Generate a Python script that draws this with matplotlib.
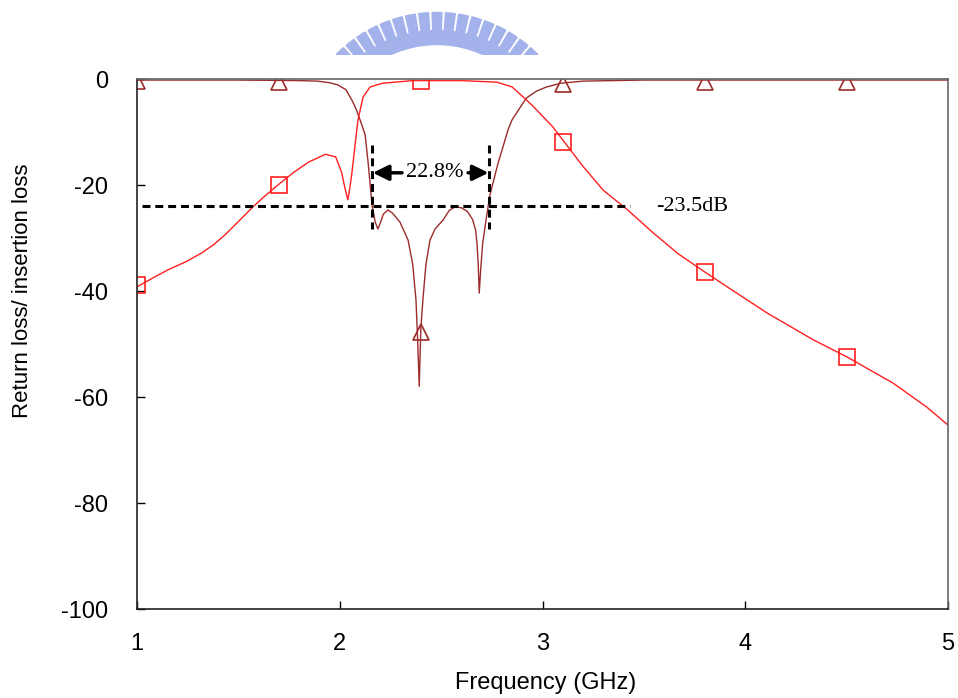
#!/usr/bin/env python3
"""
Return loss / insertion loss of the bandpass filter (S11 and S21).
"""

import numpy as np
import matplotlib
matplotlib.use("Agg")
import matplotlib.pyplot as plt
from matplotlib.patches import Wedge

plt.rcParams["axes.unicode_minus"] = False

# S11 (return loss)
freq_s11 = [1.0, 1.5, 1.8, 1.89, 1.95, 1.99, 2.03, 2.06, 2.08, 2.10, 2.125, 2.14,
            2.16, 2.175, 2.188, 2.20, 2.215, 2.238, 2.26, 2.297, 2.337, 2.36, 2.376,
            2.385, 2.392, 2.40, 2.41, 2.425, 2.445, 2.47, 2.51, 2.54, 2.57, 2.60,
            2.63, 2.655, 2.67, 2.677, 2.683, 2.688, 2.695, 2.705, 2.72, 2.74, 2.78,
            2.83, 2.85, 2.92, 2.97, 3.02, 3.09, 3.2, 3.5, 4.0, 4.5, 5.0]
s11_db = [-0.2, -0.2, -0.3, -0.4, -0.7, -1.1, -2.0, -4.0, -5.6, -7.7, -10.5, -15.8,
          -24.0, -27.0, -28.3, -27.2, -25.5, -24.7, -25.3, -27.0, -30.4, -35.0, -41.7,
          -50.0, -58.0, -47.0, -41.7, -35.0, -30.4, -28.3, -26.6, -24.8, -24.1, -24.3,
          -25.0, -26.5, -28.5, -31.0, -35.0, -40.4, -36.0, -31.0, -27.0, -22.0, -16.0,
          -9.6, -7.7, -3.6, -2.3, -1.5, -0.8, -0.4, -0.2, -0.2, -0.2, -0.2]

# S21 (insertion loss)
freq_s21 = [1.0, 1.015, 1.08, 1.153, 1.24, 1.32, 1.38, 1.434, 1.5, 1.567, 1.63, 1.695,
            1.77, 1.845, 1.93, 1.98, 2.01, 2.025, 2.04, 2.05, 2.06, 2.08, 2.09, 2.115,
            2.15, 2.21, 2.36, 2.6, 2.776, 2.85, 2.905, 2.95, 3.0, 3.05, 3.11, 3.2,
            3.30, 3.42, 3.545, 3.67, 3.80, 3.95, 4.11, 4.335, 4.50, 4.73, 4.895, 5.0]
s21_db = [-39.2, -38.9, -37.5, -36.0, -34.5, -32.8, -31.2, -29.4, -26.9, -24.3, -22.1,
          -20.0, -17.7, -15.7, -14.2, -14.7, -17.7, -20.5, -22.8, -20.5, -17.7, -11.0,
          -7.7, -3.4, -1.5, -0.8, -0.3, -0.3, -0.6, -1.5, -3.4, -5.0, -7.0, -9.0, -12.0,
          -16.5, -21.0, -24.7, -29.0, -33.0, -36.4, -40.2, -44.2, -49.2, -52.4, -57.4,
          -61.9, -65.3]

# marker positions
tri_freq = [1.0, 1.7, 2.4, 3.1, 3.8, 4.5]
tri_db = [-0.3, -0.5, -47.7, -0.9, -0.5, -0.5]
sq_freq = [1.0, 1.7, 2.4, 3.1, 3.8, 4.5]
sq_db = [-38.9, -20.0, -0.4, -11.9, -36.4, -52.4]

# annotations
ref_level = -24.0
band_lo, band_hi = 2.159, 2.736
bw_label = "22.8%"
ref_label = "-23.5dB"

S11_COLOR = "#9c2b2b"
S21_COLOR = "#ff1f1f"
SANS = "Liberation Sans"
SERIF = "Liberation Serif"

fig = plt.figure(figsize=(9.58, 6.98), dpi=100)
ax = fig.add_axes([137 / 958, 1 - 609 / 698, 811 / 958, 530 / 698])

ax.plot(freq_s11, s11_db, color=S11_COLOR, lw=1.0)
ax.plot(freq_s21, s21_db, color=S21_COLOR, lw=1.0)
ax.plot(tri_freq, tri_db, ls="none", marker="^", ms=11.5, mfc="none",
        mec=S11_COLOR, mew=1.2)
ax.plot(sq_freq, sq_db, ls="none", marker="s", ms=11.5, mfc="none",
        mec=S21_COLOR, mew=1.2)

# reference level and bandwidth markers
ax.plot([1.025, 3.43], [ref_level, ref_level], color="black", lw=2.2,
        dashes=(2.6, 1.6))
for f in (band_lo, band_hi):
    ax.plot([f, f], [-12.5, -28.3], color="black", lw=2.2, dashes=(2.6, 1.6))
arrow = dict(arrowstyle="-|>,head_length=0.63,head_width=0.31",
             color="black", lw=2.5, mutation_scale=15, shrinkA=0, shrinkB=0)
ax.annotate("", xy=(band_lo + 0.004, -17.7), xytext=(2.307, -17.7), arrowprops=arrow)
ax.annotate("", xy=(band_hi - 0.002, -17.7), xytext=(2.633, -17.7), arrowprops=arrow)
ax.text(2.467, -17.7, bw_label, ha="center", va="center", fontsize=16,
        family=SERIF)
ax.text(3.56, ref_level, ref_label, ha="left", va="center", fontsize=16,
        family=SERIF)

ax.set_xlim(1, 5)
ax.set_ylim(-100, 0)
ax.set_xticks([1, 2, 3, 4, 5])
ax.set_yticks([0, -20, -40, -60, -80, -100])
ax.tick_params(direction="in", length=6, width=1.0, top=False, right=False,
               labelsize=17, colors="black")
ax.tick_params(axis="y", pad=21)
ax.tick_params(axis="x", pad=17)
for lab in ax.get_xticklabels() + ax.get_yticklabels():
    lab.set_family(SANS)

ax.set_xlabel("Frequency (GHz)", fontsize=17, family=SANS)
ax.set_ylabel("Return loss/ insertion loss", fontsize=16, family=SANS)
ax.xaxis.set_label_coords(0.504, -0.118)
ax.yaxis.set_label_coords(-0.128, 0.601)

for side in ("left", "bottom"):
    ax.spines[side].set_color("#222222")
    ax.spines[side].set_linewidth(1.2)
for side in ("top", "right"):
    ax.spines[side].set_color("#666666")
    ax.spines[side].set_linewidth(1.2)

# faded logo at the top
logo = fig.add_axes([290 / 958, 1 - 55 / 698, 300 / 958, 55 / 698])
logo.set_xlim(290, 590)
logo.set_ylim(643, 698)
logo.set_aspect("equal")
logo.axis("off")
centre = (437, 543.5)
logo_color = "#a4b2eb"
logo.add_patch(Wedge(centre, 124, 20, 160, width=14, color=logo_color))
for a in np.arange(90 - 5.4 * 9, 90 + 5.4 * 9 + 0.1, 5.4):
    logo.add_patch(Wedge(centre, 142, a - 2.0, a + 2.0, width=19, color=logo_color))

fig.savefig("out.png", dpi=100)
